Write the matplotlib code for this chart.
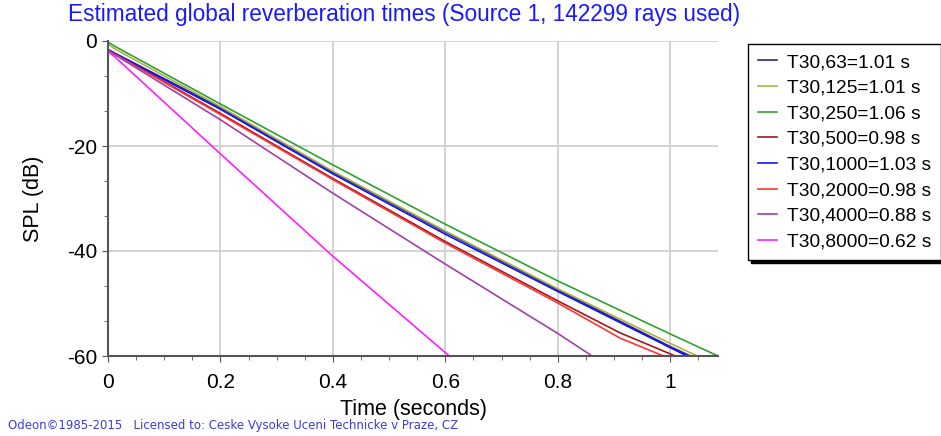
import matplotlib
matplotlib.use("Agg")
import matplotlib.pyplot as plt
from matplotlib.ticker import MultipleLocator

plt.rcParams['font.family'] = ['Liberation Sans', 'DejaVu Sans']
plt.rcParams['axes.unicode_minus'] = False

title = "Estimated global reverberation times (Source 1, 142299 rays used)"
labels = ["T30,63=1.01 s", "T30,125=1.01 s", "T30,250=1.06 s", "T30,500=0.98 s",
          "T30,1000=1.03 s", "T30,2000=0.98 s", "T30,4000=0.88 s", "T30,8000=0.62 s"]
colors = ["#2a2a8c", "#b0b040", "#30a030", "#a01818", "#1010ff", "#ff3535", "#a040a8", "#ff20ff"]

t_63 = [0.0, 0.012, 0.2, 0.4, 0.6, 0.8, 1.0, 1.036]
db_63 = [-1.6, -2.3, -12.7, -25.0, -36.4, -47.4, -58.2, -60.0]
t_125 = [0.0, 0.012, 0.2, 0.4, 0.6, 0.8, 1.0, 1.048]
db_125 = [-0.6, -1.5, -12.5, -24.8, -36.2, -47.2, -57.6, -60.0]
t_250 = [0.0, 0.012, 0.2, 0.4, 0.6, 0.8, 1.0, 1.085]
db_250 = [-0.2, -1.0, -12.0, -23.6, -34.9, -45.7, -55.8, -60.0]
t_500 = [0.0, 0.012, 0.2, 0.4, 0.6, 0.8, 0.911, 1.009]
db_500 = [-1.7, -2.4, -13.8, -26.2, -38.2, -49.5, -55.6, -60.0]
t_1000 = [0.0, 0.012, 0.2, 0.4, 0.6, 0.8, 1.0, 1.03]
db_1000 = [-1.7, -2.4, -13.0, -25.3, -36.8, -47.7, -58.4, -60.0]
t_2000 = [0.0, 0.012, 0.2, 0.4, 0.6, 0.8, 0.911, 0.988]
db_2000 = [-1.8, -2.5, -14.0, -26.4, -38.5, -49.9, -56.6, -60.0]
t_4000 = [0.0, 0.012, 0.2, 0.4, 0.6, 0.8, 0.861]
db_4000 = [-1.8, -2.6, -15.0, -29.0, -42.5, -55.7, -60.0]
t_8000 = [0.0, 0.012, 0.2, 0.4, 0.607]
db_8000 = [-2.0, -3.0, -21.5, -41.0, -60.0]

series_t = [t_63, t_125, t_250, t_500, t_1000, t_2000, t_4000, t_8000]
series_db = [db_63, db_125, db_250, db_500, db_1000, db_2000, db_4000, db_8000]

x_ticks = [0, 0.2, 0.4, 0.6, 0.8, 1.0]
x_ticklabels = ["0", "0.2", "0.4", "0.6", "0.8", "1"]
y_ticks = [0, -20, -40, -60]
y_ticklabels = ["0", "-20", "-40", "-60"]

fig = plt.figure(figsize=(9.41, 4.36), dpi=100)
ax = fig.add_axes([108/941, 1-356/436, 610/941, 315/436])

for t, d, c, lab in zip(series_t, series_db, colors, labels):
    ax.plot(t, d, color=c, lw=1.2, label=lab)

ax.set_xlim(0, 1.085)
ax.set_ylim(-60, 0)
ax.set_xticks(x_ticks)
ax.set_xticklabels(x_ticklabels)
ax.set_yticks(y_ticks)
ax.set_yticklabels(y_ticklabels)
ax.xaxis.set_minor_locator(MultipleLocator(0.05))
ax.yaxis.set_minor_locator(MultipleLocator(20/3))
ax.tick_params(axis='both', which='major', labelsize=15, length=4, color='#555555', direction='out')
ax.tick_params(axis='x', which='major', pad=8)
ax.tick_params(axis='y', which='major', pad=4)
ax.tick_params(axis='both', which='minor', length=3, color='#555555', direction='out')
ax.grid(True, which='major', color='#d0d0d0', lw=1.3)
ax.set_axisbelow(True)
for s in ['top', 'right']:
    ax.spines[s].set_visible(False)
for s in ['left', 'bottom']:
    ax.spines[s].set_color('#555555')
    ax.spines[s].set_linewidth(1.5)

ax.set_xlabel("Time (seconds)", fontsize=15.5, labelpad=5)
ax.set_ylabel("SPL (dB)", fontsize=15.5, labelpad=16)

fig.text(404/941, 1-15/436, title, color='#1a1aff', fontsize=16.3, ha='center', va='center')
fig.text(8/941, 1-425/436, "Odeon\u00a91985-2015   Licensed to: Ceske Vysoke Uceni Technicke v Praze, CZ",
         color='#3b3bdd', fontsize=8.5, ha='left', va='center', family=['DejaVu Sans'])

leg = ax.legend(loc='upper left', bbox_to_anchor=(748/941, 1-44/436), bbox_transform=fig.transFigure,
                fontsize=13.8, frameon=True, fancybox=False, shadow={'color': 'black', 'alpha': 1, 'ox': 2, 'oy': -2},
                edgecolor='black', framealpha=1, handlelength=1.0, handletextpad=0.55,
                labelspacing=0.43, borderpad=0.5, borderaxespad=0)
leg.get_frame().set_linewidth(1.0)

fig.savefig("out.png", dpi=100)
